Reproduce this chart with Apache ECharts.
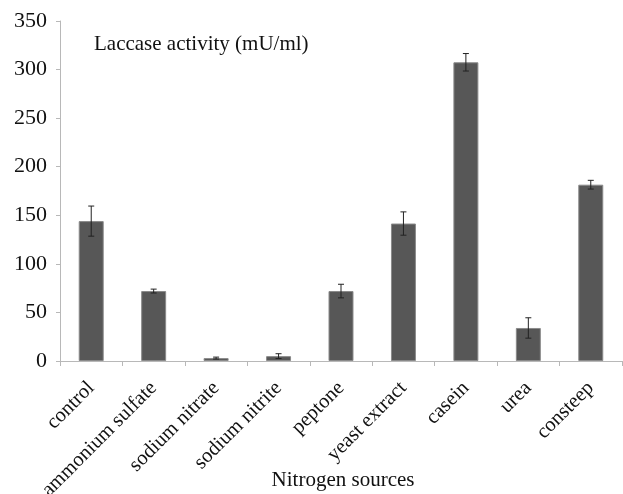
<!DOCTYPE html>
<html>
<head>
<meta charset="utf-8">
<script src="https://cdn.jsdelivr.net/npm/echarts@6/dist/echarts.min.js"></script>
<style>
  html, body { margin: 0; padding: 0; background: #fff; }
  #chart { width: 623px; height: 494px; }
</style>
</head>
<body>
<div id="chart"></div>
<script>
// Nitrogen sources tested and the laccase activity obtained with each
const categories = ['control', 'ammonium sulfate', 'sodium nitrate', 'sodium nitrite',
  'peptone', 'yeast extract', 'casein', 'urea', 'consteep'];
const activity = [144, 72, 3, 5, 72, 141.5, 307.5, 34, 181.5];
const errors = [15.5, 2, 1, 2.5, 7, 12, 9, 10.5, 4.5];
const yTicks = [0, 50, 100, 150, 200, 250, 300, 350];

const FONT = '"Liberation Serif", "Times New Roman", serif';
const chart = echarts.init(document.getElementById('chart'));

const errorData = categories.map((c, i) => [i, activity[i] - errors[i], activity[i] + errors[i]]);

chart.setOption({
  animation: false,
  backgroundColor: '#fff',
  grid: { left: 60, right: 1, top: 21, bottom: 133, containLabel: false, outerBoundsMode: 'none' },
  title: {
    text: 'Laccase activity (mU/ml)',
    left: 89, top: 29,
    textStyle: { fontFamily: FONT, fontSize: 21, fontWeight: 'normal', color: '#111' }
  },
  xAxis: {
    type: 'category',
    data: categories,
    name: 'Nitrogen sources',
    nameLocation: 'middle',
    nameGap: 109,
    nameMoveOverlap: false,
    nameTextStyle: { fontFamily: FONT, fontSize: 21, color: '#111', padding: [0, 0, 0, 4] },
    axisLine: { lineStyle: { color: '#b8b8b8', width: 1 } },
    axisTick: { show: true, length: 5, lineStyle: { color: '#b8b8b8' } },
    axisLabel: { rotate: 45, fontFamily: FONT, fontSize: 20.5, color: '#111', margin: 24, interval: 0 }
  },
  yAxis: {
    type: 'value',
    min: 0, max: 350, interval: 50,
    axisLine: { show: true, lineStyle: { color: '#b8b8b8', width: 1 } },
    axisTick: { show: true, length: 4, lineStyle: { color: '#b8b8b8' } },
    splitLine: { show: false },
    axisLabel: {
      fontFamily: FONT, fontSize: 22, color: '#111', margin: 13,
      formatter: v => yTicks.includes(v) ? String(v) : ''
    }
  },
  series: [
    {
      type: 'bar',
      data: activity,
      barWidth: '40%',
      itemStyle: { color: '#575757', borderColor: '#8a8a8a', borderWidth: 1 }
    },
    {
      type: 'custom',
      data: errorData,
      z: 10,
      renderItem: function (params, api) {
        const x = api.value(0);
        const lo = api.coord([x, api.value(1)]);
        const hi = api.coord([x, api.value(2)]);
        const half = 3;
        const style = { stroke: '#222', lineWidth: 1 };
        return {
          type: 'group',
          children: [
            { type: 'line', shape: { x1: hi[0], y1: hi[1], x2: lo[0], y2: lo[1] }, style },
            { type: 'line', shape: { x1: hi[0] - half, y1: hi[1], x2: hi[0] + half, y2: hi[1] }, style },
            { type: 'line', shape: { x1: lo[0] - half, y1: lo[1], x2: lo[0] + half, y2: lo[1] }, style }
          ]
        };
      }
    }
  ]
});
</script>
</body>
</html>
